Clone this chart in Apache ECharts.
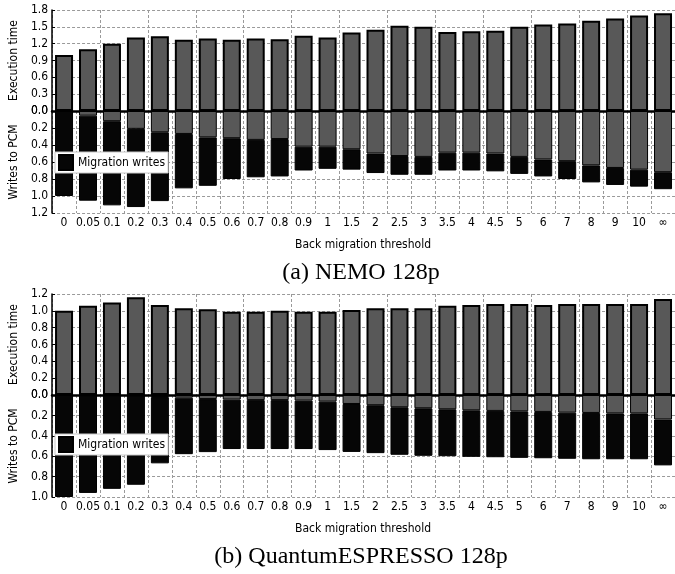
<!DOCTYPE html>
<html>
<head>
<meta charset="UTF-8">
<title>Back migration threshold</title>
<script src="https://cdn.jsdelivr.net/npm/echarts@6/dist/echarts.min.js"></script>
<style>
	body { margin: 0; background: #fff; }
	#main { width: 675px; height: 574px; }
</style>
</head>
<body>
<div id="main"></div>
<script type="text/javascript">
// x categories (back migration threshold)
var categories = ['0', '0.05', '0.1', '0.2', '0.3', '0.4', '0.5', '0.6', '0.7', '0.8', '0.9', '1',
	'1.5', '2', '2.5', '3', '3.5', '4', '4.5', '5', '6', '7', '8', '9', '10', '\u221e'];

// (a) NEMO 128p
var nemoTime = [1.00, 1.10, 1.20, 1.31, 1.33, 1.27, 1.29, 1.27, 1.29, 1.28, 1.34, 1.31,
	1.40, 1.45, 1.52, 1.50, 1.41, 1.42, 1.43, 1.50, 1.54, 1.56, 1.61, 1.65, 1.70, 1.74];
var nemoOtherWrites = [0.00, 0.055, 0.12, 0.21, 0.25, 0.27, 0.31, 0.32, 0.34, 0.33, 0.42, 0.42,
	0.45, 0.50, 0.53, 0.54, 0.49, 0.49, 0.50, 0.54, 0.57, 0.59, 0.64, 0.67, 0.69, 0.72];
var nemoMigWrites = [1.00, 1.00, 0.99, 0.92, 0.81, 0.64, 0.57, 0.48, 0.44, 0.44, 0.28, 0.26,
	0.24, 0.23, 0.22, 0.21, 0.21, 0.21, 0.21, 0.20, 0.20, 0.21, 0.20, 0.20, 0.20, 0.20];

// (b) QuantumESPRESSO 128p
var qeTime = [1.00, 1.06, 1.10, 1.16, 1.07, 1.03, 1.02, 0.99, 0.99, 1.00, 0.99, 0.99,
	1.01, 1.03, 1.03, 1.03, 1.06, 1.07, 1.08, 1.08, 1.07, 1.08, 1.08, 1.08, 1.08, 1.14];
var qeOtherWrites = [0.00, 0.003, 0.003, 0.005, 0.02, 0.026, 0.04, 0.045, 0.05, 0.05, 0.055, 0.065,
	0.088, 0.10, 0.12, 0.13, 0.14, 0.15, 0.156, 0.16, 0.166, 0.173, 0.176, 0.18, 0.18, 0.24];
var qeMigWrites = [1.00, 0.957, 0.917, 0.875, 0.65, 0.554, 0.52, 0.485, 0.48, 0.48, 0.475, 0.475,
	0.47, 0.47, 0.466, 0.466, 0.46, 0.456, 0.454, 0.456, 0.454, 0.452, 0.454, 0.45, 0.45, 0.45];

// y ranges: [min, max, step]
var nemoTimeAxis = [0, 1.8, 0.3];
var nemoWriteAxis = [0, 1.2, 0.2];
var qeTimeAxis = [0, 1.2, 0.2];
var qeWriteAxis = [0, 1.0, 0.2];

var narrow = "'Liberation Sans Narrow', 'DejaVu Sans Condensed', sans-serif";
var dash = { color: '#9a9a9a', type: [3, 2], width: 1 };
var gray = '#585858';
var black = '#060606';

var grids = [], xAxes = [], yAxes = [], series = [], legends = [], texts = [];

function fmt(v) { return v.toFixed(1); }

function addPanel(top, timeAxis, writeAxis, time, other, mig, legendTop, caption) {
	var g = grids.length;
	grids.push({ left: 47, top: top, width: 633, height: 101 });
	grids.push({ left: 47, top: top + 101, width: 633, height: 102 });

	var xi = xAxes.length;
	// upper: zero line + ticks
	xAxes.push({
		gridIndex: g, type: 'category', data: categories,
		axisLine: { lineStyle: { color: '#000', width: 2.5 } },
		axisTick: { inside: true, length: 4, lineStyle: { color: '#000', width: 1.5 } },
		axisLabel: { show: false },
		splitLine: { show: true, lineStyle: dash }
	});
	// lower: labels at the bottom
	xAxes.push({
		gridIndex: g + 1, type: 'category', data: categories, position: 'bottom',
		axisLine: { show: false, onZero: false },
		axisTick: { show: false },
		axisLabel: { margin: 4, fontSize: 12, color: '#000', fontFamily: narrow, interval: 0 },
		splitLine: { show: true, lineStyle: dash }
	});
	// lower: ticks under the zero line
	xAxes.push({
		gridIndex: g + 1, type: 'category', data: categories, position: 'top',
		axisLine: { show: false, onZero: false },
		axisTick: { inside: true, length: 4, lineStyle: { color: '#000', width: 1.5 } },
		axisLabel: { show: false }
	});

	var yi = yAxes.length;
	var yBase = {
		axisLine: { show: true, lineStyle: { color: '#000', width: 1.5 } },
		axisTick: { show: true, inside: true, length: 3, lineStyle: { color: '#000' } },
		axisLabel: { formatter: fmt, fontSize: 12, color: '#000', fontFamily: narrow, margin: 4 },
		splitLine: { show: true, lineStyle: dash },
		nameLocation: 'middle', nameGap: 28,
		nameTextStyle: { fontSize: 12, color: '#000', fontFamily: narrow }
	};
	yAxes.push(Object.assign({}, yBase, {
		gridIndex: g, type: 'value', min: timeAxis[0], max: timeAxis[1], interval: timeAxis[2],
		name: 'Execution time'
	}));
	yAxes.push(Object.assign({}, yBase, {
		gridIndex: g + 1, type: 'value', inverse: true, min: writeAxis[0], max: writeAxis[1], interval: writeAxis[2],
		name: 'Writes to PCM'
	}));

	series.push({
		name: 'Execution time', type: 'bar', xAxisIndex: xi, yAxisIndex: yi, data: time,
		barWidth: 18, itemStyle: { color: gray, borderColor: '#000', borderWidth: 2 }
	});
	series.push({
		name: 'Other writes', type: 'bar', stack: 'w' + g, xAxisIndex: xi + 1, yAxisIndex: yi + 1, data: other,
		barWidth: 18, itemStyle: { color: gray, borderColor: '#000', borderWidth: 1 }
	});
	series.push({
		name: 'Migration writes', type: 'bar', stack: 'w' + g, xAxisIndex: xi + 1, yAxisIndex: yi + 1, data: mig,
		barWidth: 18, itemStyle: { color: black, borderColor: '#000', borderWidth: 1 }
	});

	legends.push({
		left: 55, top: legendTop, data: ['Migration writes'], icon: 'rect',
		itemWidth: 14, itemHeight: 15, itemGap: 4,
		backgroundColor: '#fff', borderColor: '#c8c8c8', borderWidth: 1, padding: [2, 3, 2, 3],
		selectedMode: false,
		textStyle: { fontSize: 12, color: '#000', fontFamily: narrow }
	});

	texts.push({
		type: 'text', x: 363, y: top + 235,
		style: { text: 'Back migration threshold', fontSize: 12, fill: '#000', fontFamily: narrow,
			align: 'center', verticalAlign: 'middle' }
	});
	texts.push({
		type: 'text', x: 361, y: top + 263,
		style: { text: caption, fontSize: 24, fill: '#000', fontFamily: "'Liberation Serif', serif",
			align: 'center', verticalAlign: 'middle' }
	});
}

addPanel(10, nemoTimeAxis, nemoWriteAxis, nemoTime, nemoOtherWrites, nemoMigWrites, 152, '(a) NEMO 128p');
addPanel(294, qeTimeAxis, qeWriteAxis, qeTime, qeOtherWrites, qeMigWrites, 434, '(b) QuantumESPRESSO 128p');

var myChart = echarts.init(document.getElementById('main'));
myChart.setOption({
	animation: false,
	grid: grids,
	xAxis: xAxes,
	yAxis: yAxes,
	series: series,
	legend: legends,
	graphic: texts
});
</script>
</body>
</html>
